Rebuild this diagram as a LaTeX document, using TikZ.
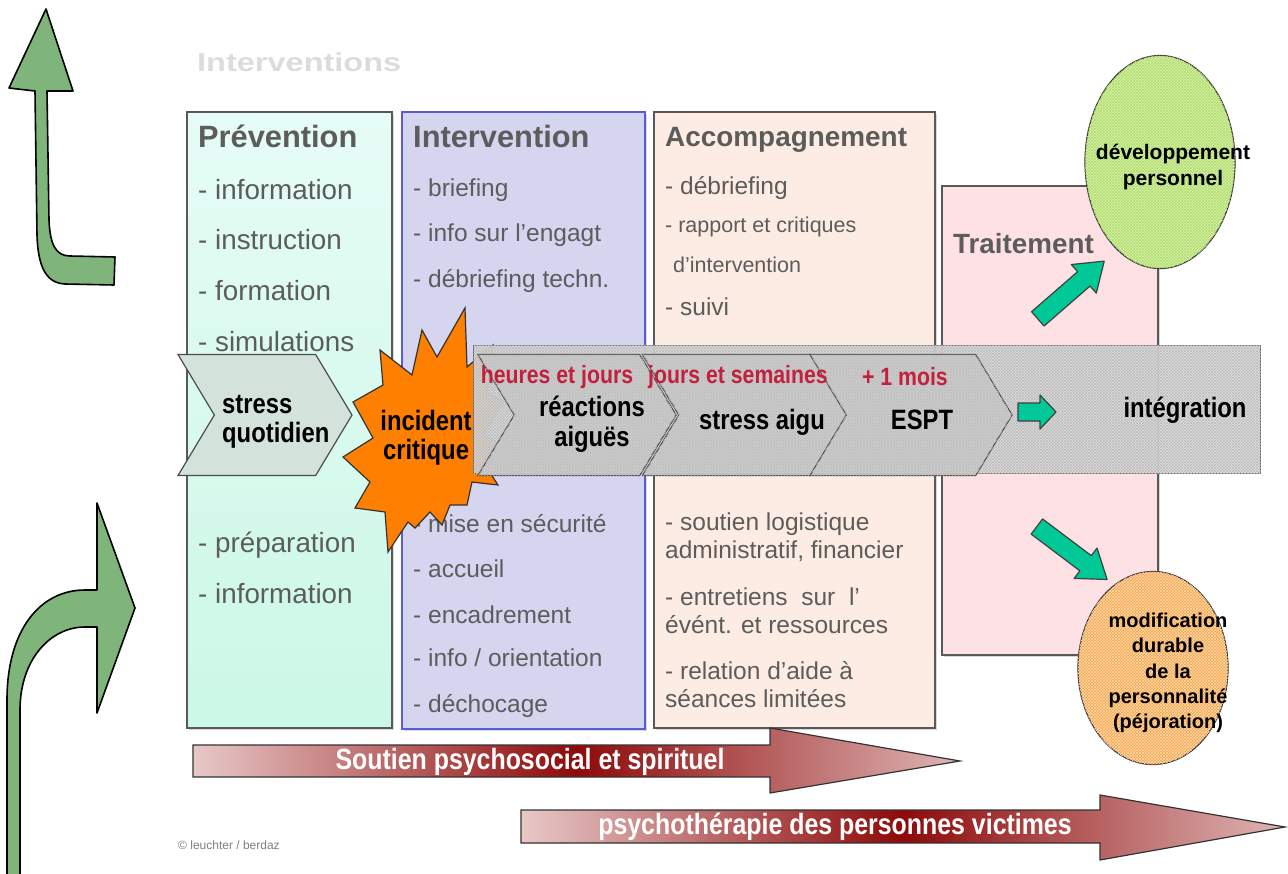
\documentclass[tikz,border=0pt]{standalone}
\usepackage{fontspec}
\setmainfont{Liberation Sans}
\newfontfamily\narrowsf{Liberation Sans}[FakeStretch=0.85]
\newfontfamily\widesf{Liberation Sans}[FakeStretch=1.25]
\usetikzlibrary{shapes.symbols, shapes.geometric, patterns, shadows, positioning}

\definecolor{textgray}{HTML}{5C5C5C}
\definecolor{titlegray}{HTML}{DCDCDC}
\definecolor{prevtop}{HTML}{E6FCF6}
\definecolor{prevbot}{HTML}{CBF8E6}
\definecolor{intfill}{HTML}{D5D5F0}
\definecolor{intdraw}{HTML}{5B5BD6}
\definecolor{accfill}{HTML}{FDECE3}
\definecolor{traitfill}{HTML}{FDE1E4}
\definecolor{quotfill}{HTML}{D3E3DC}
\definecolor{bandfill}{HTML}{DCDCDC}
\definecolor{bandmesh}{HTML}{BCBCBC}
\definecolor{chevfill}{HTML}{CECECE}
\definecolor{chevmesh}{HTML}{C0C0C0}
\definecolor{starorange}{HTML}{FF7F00}
\definecolor{labelred}{HTML}{C2203C}
\definecolor{arrowteal}{HTML}{00C896}
\definecolor{devgreen}{HTML}{D6F59E}
\definecolor{devmesh}{HTML}{B2D97A}
\definecolor{modorange}{HTML}{F6A445}
\definecolor{modmesh}{HTML}{FCD9AE}
\definecolor{darkred}{HTML}{8E0A0A}
\definecolor{lightred}{HTML}{E8C8C8}
\definecolor{curvegreen}{HTML}{7FB57B}

\begin{document}
\begin{tikzpicture}[x=1pt, y=-1pt,
  phasebox/.style={draw=black!65, line width=1.6pt, anchor=north west, inner sep=0pt,
    drop shadow={opacity=0.3, shadow xshift=2pt, shadow yshift=-2pt}},
  boxhead/.style={anchor=mid west, inner sep=0pt, yshift=-6.5pt, text=textgray},
  boxitem/.style={anchor=mid west, inner sep=0pt, yshift=-6.5pt, text=textgray},
  chevron/.style={signal, signal from=west, signal to=east, signal pointer angle=118,
    minimum height=121, inner sep=0pt, draw=black!70, line width=1.2pt},
  meshchevron/.style={chevron, fill=chevfill, fill opacity=0.9,
    postaction={pattern=crosshatch, pattern color=chevmesh}},
  chevtext/.style={inner sep=0pt, align=center, font=\narrowsf\bfseries\fontsize{28}{29.5}\selectfont},
  timelabel/.style={inner sep=0pt, text=labelred, font=\narrowsf\bfseries\fontsize{25}{28}\selectfont},
  tealarrow/.style={fill=arrowteal, draw=black!75, line width=1.2pt, line join=round},
  bigarrow/.style={draw=black!80, line width=1.2pt, left color=lightred, right color=lightred!90!darkred, middle color=darkred},
  bigtext/.style={inner sep=0pt, text=white, font=\narrowsf\bfseries\fontsize{29.3}{31}\selectfont},
  curvearrow/.style={fill=curvegreen, draw=black, line width=1.6pt, line join=round},
  outcome/.style={ellipse, draw=black!80, line width=1.2pt, inner sep=0pt}
]
\useasboundingbox (0,0) rectangle (1288,873);

% title
\node[inner sep=0pt, anchor=mid west, yshift=-6.5pt, text=titlegray, font=\widesf\bfseries\fontsize{26}{28}\selectfont] (title) at (197,62) {Interventions};

% phase boxes
\node[phasebox, top color=prevtop, bottom color=prevbot, minimum width=205, minimum height=616] (prev) at (186,111) {};
\node[phasebox, fill=intfill, draw=intdraw, minimum width=243, minimum height=617] (inter) at (401,111) {};
\node[phasebox, fill=accfill, minimum width=281, minimum height=616] (accomp) at (653,111) {};
\node[phasebox, fill=traitfill, minimum width=216, minimum height=469] (trait) at (941,185) {};

% headings
\node[boxhead, font=\bfseries\fontsize{30.8}{32}\selectfont] (prevhead) at (198,138) {Prévention};
\node[boxhead, font=\bfseries\fontsize{30.8}{32}\selectfont] (interhead) at (413,138) {Intervention};
\node[boxhead, font=\bfseries\fontsize{27.9}{30}\selectfont] (acchead) at (665,137) {Accompagnement};
\node[boxhead, font=\bfseries\fontsize{27.8}{30}\selectfont] (traithead) at (953,244) {Traitement};

% items
\foreach \txt/\yy [count=\i] in {- information/190, - instruction/240, - formation/291,
    - simulations/342, - préparation/543, - information/594}
  \node[boxitem, font=\fontsize{27.8}{30}\selectfont] (previtem\i) at (198,\yy) {\txt};
\foreach \txt/\yy [count=\i] in {- briefing/187, - info sur l’engagt/232, - débriefing techn./278,
    - mise en sécurité/523, - accueil/568, - encadrement/614, {- info / orientation}/657, - déchocage/703}
  \node[boxitem, font=\fontsize{24.5}{28}\selectfont] (interitem\i) at (413,\yy) {\txt};
\node[boxitem, font=\fontsize{24.5}{28}\selectfont] (accitem1) at (665,185) {- débriefing};
\node[boxitem, font=\fontsize{21.5}{24}\selectfont] (accitem2) at (665,223) {- rapport et critiques};
\node[boxitem, font=\fontsize{21.5}{24}\selectfont] (accitem3) at (673,263) {d’intervention};
\node[boxitem, font=\fontsize{24.5}{28}\selectfont] (accitem4) at (665,306) {- suivi};
\foreach \txt/\yy [count=\i] in {- soutien logistique/521, {administratif, financier}/549,
    - entretiens\ \ sur\ \ l’/596, évént. et ressources/624, - relation d’aide à/670, séances limitées/698}
  \node[boxitem, font=\fontsize{24.5}{28}\selectfont] (accbot\i) at (665,\yy) {\txt};

% daily stress, then the critical incident
\node[chevron, fill=quotfill, minimum width=174] (quot) at (265,415) {};
\node[chevtext, align=left, anchor=west] (quottext) at ([shift={(-43,7)}]quot.center) {stress\\quotidien};

\draw[fill=starorange, draw=black!80, line width=1.2pt, line join=miter]
  (465,308) -- (467,367) -- (493,345) -- (487,392) -- (503,402) -- (483,435) -- (497,442)
  -- (483,462) -- (498,485) -- (472,482) -- (467,505) -- (450,505) -- (442,525) -- (430,512)
  -- (415,528) -- (408,522) -- (388,552) -- (385,512) -- (355,508) -- (370,482) -- (343,457)
  -- (373,438) -- (353,402) -- (383,385) -- (380,350) -- (412,375) -- (422,330) -- (437,357) -- cycle;
\node[chevtext] (incident) at (426,438) {incident\\critique};

% reactions band
\node[anchor=north west, inner sep=0pt, minimum width=787, minimum height=128, fill=bandfill, fill opacity=0.9,
  draw=black!60, line width=1.2pt, postaction={pattern=crosshatch, pattern color=bandmesh}] (band) at (473,345) {};
\node[meshchevron, minimum width=198] (reac) at (577,415) {};
\node[meshchevron, minimum width=205] (aigu) at (745,415) {};
\node[meshchevron, minimum width=202] (espt) at (911,415) {};
\node[chevtext] (reactext) at ([shift={(15,9)}]reac.center) {réactions\\aiguës};
\node[chevtext] (aigutext) at ([shift={(17,7)}]aigu.center) {stress aigu};
\node[chevtext] (espttext) at ([shift={(11,5)}]espt.center) {ESPT};
\node[chevtext] (integ) at (1185,410) {intégration};

\node[timelabel] (heures) at (557,377) {heures et jours};
\node[timelabel] (jours) at (738,377) {jours et semaines};
\node[timelabel] (mois) at (905,377) {+ 1 mois};

% teal arrows
\draw[tealarrow] (1018,403) -- (1040,403) -- (1040,395) -- (1056,412) -- (1040,429) -- (1040,421) -- (1018,421) -- cycle;
\begin{scope}[shift={(1071,290)}, rotate=41]
  \draw[tealarrow] (-44,-9.5) -- (17,-9.5) -- (17,-19) -- (44,0) -- (17,19) -- (17,9.5) -- (-44,9.5) -- cycle;
\end{scope}
\begin{scope}[shift={(1072,553)}, rotate=-37]
  \draw[tealarrow] (-44,-9.5) -- (17,-9.5) -- (17,-19) -- (44,0) -- (17,19) -- (17,9.5) -- (-44,9.5) -- cycle;
\end{scope}

% outcomes
\node[outcome, fill=devgreen, minimum width=150, minimum height=213,
  postaction={pattern=crosshatch, pattern color=devmesh}] (devperso) at (1160,162) {};
\node[inner sep=0pt, align=center, font=\bfseries\fontsize{21}{26}\selectfont] (devtext) at (1173,167) {développement\\personnel};
\node[outcome, fill=modorange, minimum width=150, minimum height=193,
  postaction={pattern=crosshatch, pattern color=modmesh}] (modif) at (1153,668) {};
\node[inner sep=0pt, align=center, font=\bfseries\fontsize{20}{25.3}\selectfont] (modtext) at (1168,673)
  {modification\\durable\\de la\\personnalité\\(péjoration)};

% support arrows
\draw[bigarrow] (193,745) -- (770,745) -- (770,728) -- (960,761) -- (770,793) -- (770,777) -- (193,777) -- cycle;
\node[bigtext] (soutien) at (530,762) {Soutien psychosocial et spirituel};
\draw[bigarrow] (521,810) -- (1100,810) -- (1100,795) -- (1285,827) -- (1100,860) -- (1100,843) -- (521,843) -- cycle;
\node[bigtext] (psycho) at (835,827) {psychothérapie des personnes victimes};

\node[inner sep=0pt, anchor=mid west, yshift=-2pt, text=gray, font=\fontsize{12}{14}\selectfont] (copy) at (178,845) {© leuchter / berdaz};

% curved arrows
\draw[curvearrow] (46,9) -- (73,91) -- (47,91) -- (49,220) .. controls (50,245) and (56,256) .. (70,256)
  -- (115,257) -- (114,285) -- (65,284) .. controls (45,283) and (38,265) .. (37,235) -- (35,91) -- (9,88) -- cycle;
\draw[curvearrow] (7,880) -- (7,700) .. controls (7,630) and (40,590) .. (85,590) -- (97,590) -- (97,503)
  -- (135,608) -- (97,713) -- (97,627) -- (85,627) .. controls (50,627) and (20,660) .. (20,710) -- (20,880) -- cycle;
\end{tikzpicture}
\end{document}
